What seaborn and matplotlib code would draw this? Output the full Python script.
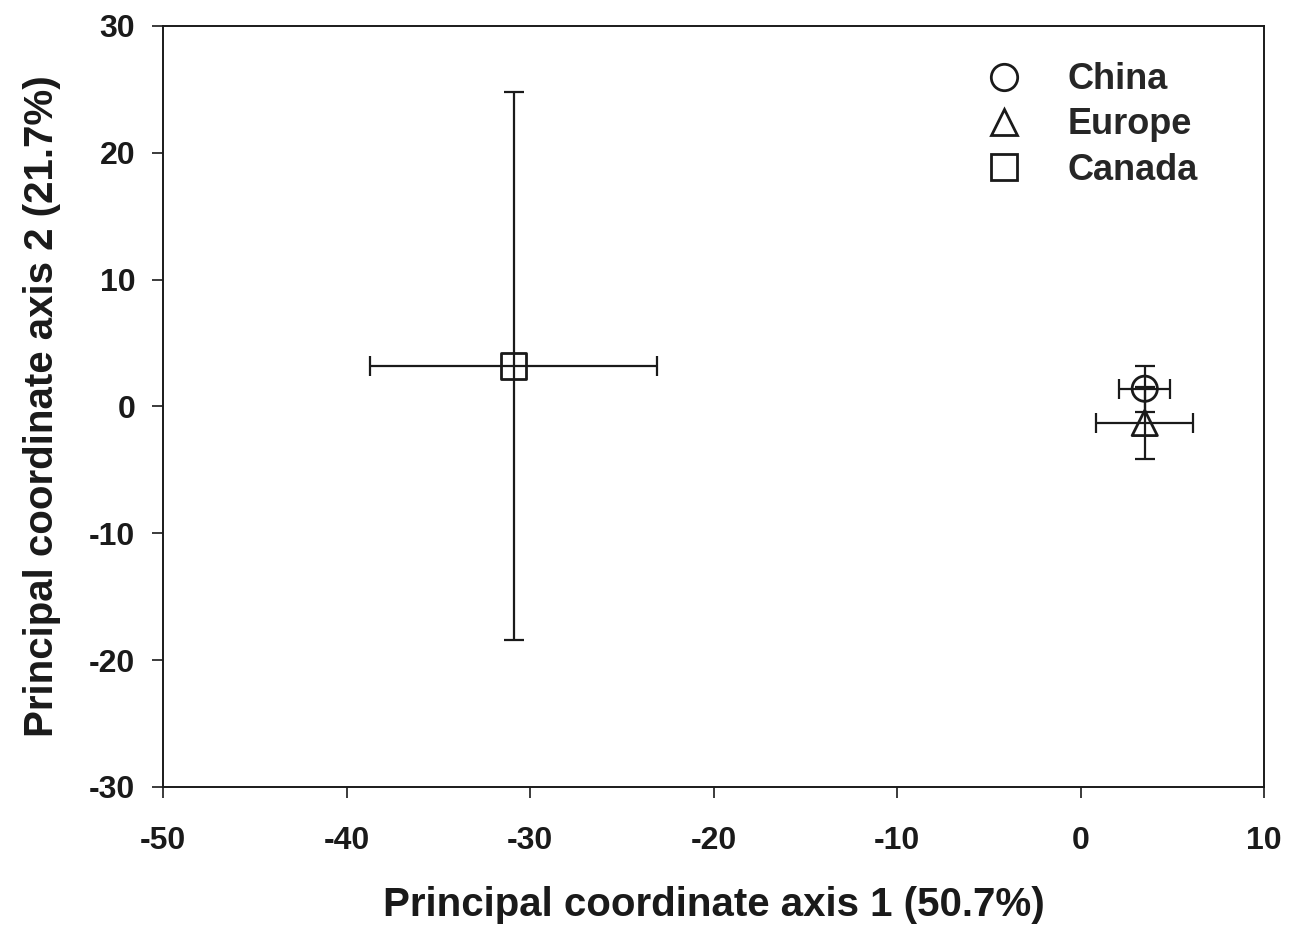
import numpy as np
import pandas as pd
import matplotlib.pyplot as plt
import seaborn as sns
from matplotlib.lines import Line2D

# PCoA centroids (mean +/- error)
regions = ["China", "Europe", "Canada"]
pc1_mean = [3.5, 3.5, -30.9]
pc2_mean = [1.4, -1.3, 3.2]
pc1_err = [1.4, 2.65, 7.8]
pc2_err = [1.8, 2.85, 21.6]

x_ticks = [-50, -40, -30, -20, -10, 0, 10]
y_ticks = [-30, -20, -10, 0, 10, 20, 30]

marker_map = {"China": "o", "Europe": "^", "Canada": "s"}

df = pd.DataFrame({
    "region": regions,
    "pc1": pc1_mean,
    "pc2": pc2_mean,
    "pc1_err": pc1_err,
    "pc2_err": pc2_err,
})

sns.set_theme(style="ticks")
plt.rcParams["font.family"] = ["Liberation Sans", "DejaVu Sans"]
plt.rcParams["font.weight"] = "bold"
plt.rcParams["axes.unicode_minus"] = False  # plain hyphens like the original

fig = plt.figure(figsize=(12.91, 9.31), dpi=100)
ax = fig.add_axes([0.1263, 0.1547, 0.8528, 0.8174])

line_col = "#1a1a1a"

# error bars first, hollow markers on top
ax.errorbar(df["pc1"], df["pc2"], xerr=df["pc1_err"], yerr=df["pc2_err"],
            fmt="none", ecolor=line_col, elinewidth=1.6, capsize=7, capthick=1.6,
            zorder=2)

sns.scatterplot(data=df, x="pc1", y="pc2", style="region", markers=marker_map,
                s=330, ax=ax, legend=False, zorder=3)
pts = ax.collections[-1]
pts.set_facecolor("none")
pts.set_edgecolor(line_col)
pts.set_linewidth(2.0)

ax.set_xlim(-50, 10)
ax.set_ylim(-30, 30)
ax.set_xticks(x_ticks)
ax.set_yticks(y_ticks)
ax.tick_params(direction="out", length=8, width=1.2, labelsize=23,
               colors=line_col)
ax.tick_params(axis="x", pad=20)
ax.tick_params(axis="y", pad=12)
for lab in ax.get_xticklabels() + ax.get_yticklabels():
    lab.set_fontweight("bold")
for sp in ax.spines.values():
    sp.set_linewidth(1.4)
    sp.set_color(line_col)

ax.set_xlabel("Principal coordinate axis 1 (50.7%)", fontsize=29,
              fontweight="bold", labelpad=22, color=line_col)
ax.set_ylabel("Principal coordinate axis 2 (21.7%)", fontsize=29,
              fontweight="bold", labelpad=20, color=line_col)

handles = [Line2D([], [], linestyle="none", marker=marker_map[r], markersize=19,
                  markerfacecolor="none", markeredgecolor=line_col,
                  markeredgewidth=2.0) for r in regions]
leg = ax.legend(handles, regions, loc="upper right", frameon=False,
                prop={"size": 26, "weight": "bold"}, handletextpad=0.75,
                labelspacing=0.28, bbox_to_anchor=(0.969, 0.995))

fig.savefig("out.png", dpi=100)
